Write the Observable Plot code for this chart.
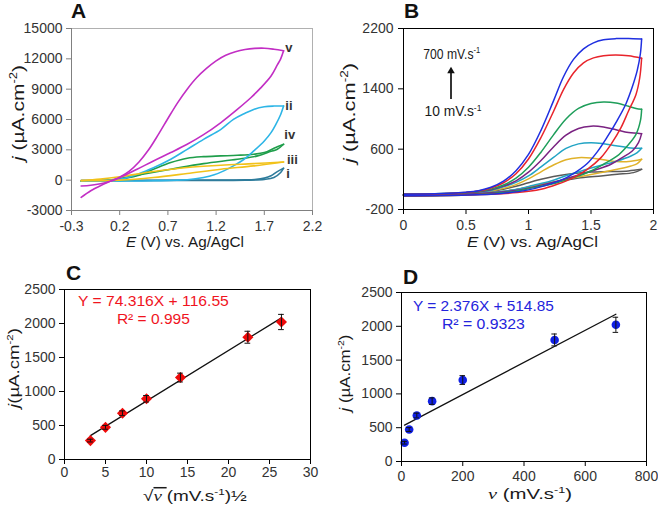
<!DOCTYPE html>
<html><head><meta charset="utf-8">
<script src="https://cdn.jsdelivr.net/npm/d3@7"></script>
<script src="https://cdn.jsdelivr.net/npm/@observablehq/plot@0.6"></script>
<style>
html,body{margin:0;padding:0;background:#fff}
#fig{position:relative;width:658px;height:506px;background:#fff}
#fig svg{position:absolute}
</style></head>
<body><div id="fig"></div>
<script>
const FONT = '"Liberation Sans", Arial, Helvetica, sans-serif';
const SERIF = '"Liberation Serif", "Times New Roman", serif';

// ---------- Panel A: CVs (E / V vs Ag/AgCl, j / µA cm-2), forward & reverse branches ----------
const A_v_fwd = [[-0.2,-1700],[-0.1,-1050],[0.0,-550],[0.1,-120],[0.2,300],[0.3,900],[0.4,1800],[0.5,3000],[0.6,4500],[0.7,6100],[0.8,7650],[0.9,9000],[1.0,10150],[1.1,11050],[1.2,11800],[1.3,12350],[1.4,12700],[1.5,12920],[1.6,13030],[1.7,13050],[1.8,12950],[1.9,12800]];
const A_v_rev = [[1.9,12800],[1.87,12000],[1.835,11400],[1.77,10300],[1.66,9100],[1.56,8150],[1.42,7000],[1.25,5700],[1.07,4500],[0.9,3550],[0.73,2730],[0.55,1900],[0.38,1080],[0.2,250],[0.1,-100],[0.0,-350],[-0.1,-500],[-0.2,-580]];
const A_ii_fwd = [[-0.2,-100],[0.0,-60],[0.2,80],[0.4,640],[0.55,1230],[0.73,2070],[0.9,3050],[1.07,4040],[1.25,5030],[1.38,6010],[1.49,6570],[1.59,7000],[1.7,7260],[1.8,7330],[1.9,7330]];
const A_ii_rev = [[1.9,7330],[1.87,6500],[1.82,5520],[1.77,4700],[1.7,3880],[1.59,2890],[1.49,2070],[1.38,1410],[1.28,920],[1.18,525],[1.07,260],[0.9,40],[0.55,-60],[0.2,-90],[-0.2,-100]];
const A_iv_fwd = [[-0.2,-100],[0.0,-60],[0.2,90],[0.38,430],[0.55,1085],[0.73,1740],[0.9,2170],[1.07,2330],[1.25,2400],[1.42,2460],[1.59,2560],[1.7,2730],[1.8,3150],[1.9,3550]];
const A_iv_rev = [[1.9,3550],[1.835,3050],[1.77,2850],[1.63,2400],[1.42,2070],[1.07,1640],[0.73,1085],[0.38,490],[0.1,0],[-0.2,-100]];
const A_iii_fwd = [[-0.2,-50],[0.0,100],[0.2,330],[0.55,850],[0.9,1250],[1.25,1480],[1.59,1640],[1.9,1800]];
const A_iii_rev = [[1.9,1800],[1.59,1410],[1.25,1085],[0.9,660],[0.55,260],[0.2,0],[-0.2,-50]];
const A_i_fwd = [[-0.2,-50],[0.5,-20],[1.25,0],[1.5,30],[1.6,70],[1.7,200],[1.77,430],[1.835,850],[1.9,1180]];
const A_i_rev = [[1.9,1180],[1.87,760],[1.8,260],[1.7,70],[1.5,0],[1.0,-20],[-0.2,-50]];
const A_labels = ["v","ii","iv","iii","i"];
const A_labelE = [1.923,1.923,1.913,1.94,1.933];
const A_labelJ = [12600,6905,4043,1515,192];
const A_xTicks = [-0.3,0.2,0.7,1.2,1.7,2.2];
const A_yTicks = [-3000,0,3000,6000,9000,12000,15000];

// ---------- Panel B: CVs at scan rates 10..700 mV/s ----------
const B_700_fwd = [[0,2],[0.3,12],[0.5,30],[0.6,50],[0.7,95],[0.8,175],[0.9,315],[1.0,530],[1.1,850],[1.2,1240],[1.28,1560],[1.36,1790],[1.44,1930],[1.52,2010],[1.6,2050],[1.7,2066],[1.8,2068],[1.905,2060]];
const B_700_rev = [[1.905,2060],[1.895,1865],[1.87,1644],[1.83,1423],[1.78,1203],[1.71,983],[1.63,762],[1.55,564],[1.47,410],[1.36,277],[1.26,189],[1.12,110],[0.99,57],[0.78,13],[0.51,-9],[0,-18]];
const B_500_fwd = [[0,2],[0.3,10],[0.5,27],[0.6,45],[0.7,85],[0.8,155],[0.9,275],[1.0,470],[1.1,755],[1.2,1100],[1.28,1390],[1.36,1610],[1.44,1745],[1.52,1810],[1.6,1840],[1.7,1850],[1.8,1838],[1.905,1805]];
const B_500_rev = [[1.905,1805],[1.89,1547],[1.86,1326],[1.8,1106],[1.74,885],[1.66,664],[1.58,488],[1.47,333],[1.36,223],[1.23,134],[1.1,68],[0.91,24],[0.51,-7],[0,-18]];
const B_200_fwd = [[0,2],[0.5,22],[0.6,38],[0.7,70],[0.8,125],[0.9,215],[1.0,360],[1.1,560],[1.2,790],[1.3,1000],[1.4,1140],[1.5,1205],[1.6,1225],[1.7,1212],[1.8,1168],[1.86,1140],[1.905,1128]];
const B_200_rev = [[1.905,1128],[1.895,974],[1.86,797],[1.79,643],[1.71,510],[1.6,400],[1.5,311],[1.36,223],[1.23,156],[1.04,90],[0.86,33],[0.51,-7],[0,-18]];
const B_100_fwd = [[0,2],[0.5,20],[0.6,34],[0.7,60],[0.8,110],[0.9,180],[1.0,295],[1.1,450],[1.2,630],[1.3,785],[1.4,875],[1.5,905],[1.6,895],[1.7,858],[1.8,820],[1.905,806]];
const B_100_rev = [[1.905,806],[1.88,686],[1.83,576],[1.75,488],[1.66,400],[1.55,333],[1.42,267],[1.26,187],[1.1,121],[0.91,55],[0.51,2],[0,-18]];
const B_50_fwd = [[0,2],[0.5,18],[0.6,30],[0.7,52],[0.8,100],[0.9,160],[1.0,245],[1.1,365],[1.2,490],[1.3,610],[1.4,670],[1.5,686],[1.6,672],[1.7,645],[1.8,620],[1.905,611]];
const B_50_rev = [[1.905,611],[1.87,554],[1.82,510],[1.71,444],[1.58,386],[1.44,320],[1.31,254],[1.18,178],[1.04,121],[0.86,55],[0.51,2],[0,-18]];
const B_25_fwd = [[0,2],[0.5,15],[0.6,26],[0.7,45],[0.8,80],[0.9,130],[1.0,205],[1.1,300],[1.2,390],[1.3,460],[1.4,487],[1.5,482],[1.6,460],[1.7,437],[1.8,435],[1.905,466]];
const B_25_rev = [[1.905,466],[1.87,409],[1.82,377],[1.71,333],[1.58,289],[1.44,245],[1.31,201],[1.18,156],[1.04,112],[0.86,55],[0.51,2],[0,-18]];
const B_10_fwd = [[0,2],[0.5,14],[0.6,22],[0.7,38],[0.8,68],[0.9,108],[1.0,155],[1.1,200],[1.2,238],[1.3,265],[1.4,283],[1.5,296],[1.6,302],[1.7,304],[1.8,312],[1.905,333]];
const B_10_rev = [[1.905,333],[1.84,289],[1.71,267],[1.58,245],[1.44,223],[1.31,192],[1.18,156],[1.04,112],[0.86,55],[0.51,2],[0,-18]];
const B_xTicks = [0,0.5,1,1.5,2];
const B_yTicks = [-200,600,1400,2200];
const B_arrowE = [0.38];
const B_arrowJ = [1260,1636];
const B_noteE = [0.39,0.40];
const B_noteJ = [1790,1027];
const B_noteRate = ["700","10"];

// ---------- Panels C & D: peak current vs scan rate ----------
const scanRates = [10,25,50,100,200,500,700];
const peakJ = [278,473,680,893,1205,1798,2022];
const peakErr = [20,28,35,48,65,88,112];
const fitC = [74.316,116.55], r2C = "0.995";
const fitD = [2.376,514.85], r2D = "0.9323";
const C_xTicks = [0,5,10,15,20,25,30];
const D_xTicks = [0,200,400,600,800];
const CD_yTicks = [0,500,1000,1500,2000,2500];

const fig = document.getElementById("fig");
const fmt = d => String(d);
const rows = (pairs, id) => pairs.map(([x, y]) => ({x, y, id}));

function panel(o) {
  const svg = Plot.plot({
    width: 329, height: 253,
    marginLeft: o.m[0], marginRight: o.m[1], marginTop: o.m[2], marginBottom: o.m[3],
    x: {domain: o.xDomain}, y: {domain: o.yDomain},
    style: {fontFamily: FONT, fontSize: o.fs + "px", color: "#333", background: "transparent", overflow: "visible"},
    marks: [
      ...o.marks,
      Plot.frame({stroke: o.frame, strokeWidth: 1}),
      ...(o.axisLine ? [Plot.ruleX([o.xDomain[0]], {stroke: o.axisLine}), Plot.ruleY([o.yDomain[0]], {stroke: o.axisLine})] : []),
      Plot.axisX({ticks: o.xTicks, tickFormat: fmt, tickSize: 5, tickPadding: o.xPad, label: null, stroke: o.tick, fill: "#333", fontSize: o.fs}),
      Plot.axisY({ticks: o.yTicks, tickFormat: fmt, tickSize: 5, tickPadding: o.yPad, label: null, stroke: o.tick, fill: "#333", fontSize: o.fs})
    ]
  });
  svg.style.left = o.ox + "px";
  svg.style.top = o.oy + "px";
  fig.appendChild(svg);
  // make sure the tick labels get the intended size and face
  d3.select(svg).selectAll('g[aria-label$="tick label"]').attr("font-size", o.fs).attr("font-family", FONT)
    .selectAll("text").style("font-size", o.fs + "px");
  const sx = svg.scale("x"), sy = svg.scale("y");
  svg._x = d3.scaleLinear(sx.domain, sx.range);
  svg._y = d3.scaleLinear(sy.domain, sy.range);
  return svg;
}

function richText(svg, o) {
  const t = d3.select(svg).append("text")
    .attr("font-family", FONT).attr("font-size", o.size)
    .attr("fill", o.fill || "#1a1a1a").attr("text-anchor", o.anchor || "middle");
  if (o.weight) t.attr("font-weight", o.weight);
  const shift = o.size * 0.4;
  let raised = false;
  for (const p of o.parts) {
    const s = typeof p === "string" ? {t: p} : p;
    const ts = t.append("tspan").text(s.t);
    if (s.italic) ts.attr("font-style", "italic");
    if (s.serif) ts.attr("font-family", SERIF);
    if (s.over) ts.attr("text-decoration", "overline");
    if (s.sup) { ts.attr("font-size", o.size * 0.62); if (!raised) ts.attr("dy", -shift); raised = true; }
    else if (raised) { ts.attr("dy", shift); raised = false; }
  }
  let tr = `translate(${o.x},${o.y})`;
  if (o.rotate) tr += ` rotate(${o.rotate})`;
  if (o.length) { const w = t.node().getComputedTextLength(); if (w > 0) tr += ` scale(${o.length / w},1)`; }
  t.attr("transform", tr);
}

const line = (pairs, stroke, w) => Plot.line(rows(pairs, "c"), {x: "x", y: "y", stroke, strokeWidth: w, curve: "catmull-rom"});

// ----- Panel A -----
const colA = {v: "#C22EC4", ii: "#2DB5E6", iv: "#1F9E4B", iii: "#F2C21A", i: "#2E7C9C"};
const svgA = panel({
  ox: 0, oy: 0, m: [71, 17, 28, 43], fs: 14,
  xDomain: [-0.3, 2.2], yDomain: [-3000, 15000], xTicks: A_xTicks, yTicks: A_yTicks,
  xPad: 6, yPad: 4, frame: "#B0B0B0", tick: "#808080", axisLine: "#808080",
  marks: [
    line(A_i_fwd, colA.i, 1.6), line(A_i_rev, colA.i, 1.6),
    line(A_iv_fwd, colA.iv, 1.6), line(A_iv_rev, colA.iv, 1.6),
    line(A_ii_fwd, colA.ii, 1.6), line(A_ii_rev, colA.ii, 1.6),
    line(A_iii_fwd, colA.iii, 1.6), line(A_iii_rev, colA.iii, 1.6),
    line(A_v_fwd, colA.v, 1.6), line(A_v_rev, colA.v, 1.6)
  ]
});
A_labels.forEach((lab, i) => richText(svgA, {x: svgA._x(A_labelE[i]), y: svgA._y(A_labelJ[i]), size: 13, weight: "bold", fill: "#333", anchor: "start", parts: [lab]}));
richText(svgA, {x: 71, y: 18, size: 21, weight: "bold", anchor: "start", fill: "#111", parts: ["A"]});
richText(svgA, {x: 24, y: 113, rotate: -90, size: 17, length: 96, parts: [{t: "j", italic: true}, " (µA.cm", {t: "-2", sup: true}, ")"]});
richText(svgA, {x: 185, y: 247, size: 15, length: 118, parts: [{t: "E", italic: true}, " (V) vs. Ag/AgCl"]});

// ----- Panel B -----
const colB = {"700": "#1F2FE0", "500": "#E8242B", "200": "#1E9E5A", "100": "#7A2382", "50": "#22A4C4", "25": "#E0B22A", "10": "#5A5A5A"};
const svgB = panel({
  ox: 329, oy: 0, m: [74, 5, 28, 44], fs: 14,
  xDomain: [0, 2], yDomain: [-200, 2200], xTicks: B_xTicks, yTicks: B_yTicks,
  xPad: 6, yPad: 5, frame: "#000", tick: "#000",
  marks: [
    line(B_10_fwd, colB["10"], 1.5), line(B_10_rev, colB["10"], 1.5),
    line(B_25_fwd, colB["25"], 1.5), line(B_25_rev, colB["25"], 1.5),
    line(B_50_fwd, colB["50"], 1.5), line(B_50_rev, colB["50"], 1.5),
    line(B_100_fwd, colB["100"], 1.5), line(B_100_rev, colB["100"], 1.5),
    line(B_200_fwd, colB["200"], 1.5), line(B_200_rev, colB["200"], 1.5),
    line(B_500_fwd, colB["500"], 1.5), line(B_500_rev, colB["500"], 1.5),
    line(B_700_fwd, colB["700"], 1.5), line(B_700_rev, colB["700"], 1.5),
    Plot.ruleX(B_arrowE, {y1: B_arrowJ[0], y2: B_arrowJ[1], stroke: "#111", strokeWidth: 1.7}),
    Plot.dot(B_arrowE, {x: d => d, y: () => B_arrowJ[1], symbol: "triangle", r: 2.8, fill: "#111", stroke: "none"})
  ]
});
B_noteRate.forEach((rate, i) => richText(svgB, {x: svgB._x(B_noteE[i]), y: svgB._y(B_noteJ[i]), size: 14, length: 57, parts: [rate + " mV.s", {t: "-1", sup: true}]}));
richText(svgB, {x: 75, y: 18, size: 21, weight: "bold", anchor: "start", fill: "#111", parts: ["B"]});
richText(svgB, {x: 25.5, y: 113, rotate: -90, size: 17, length: 100, parts: [{t: "j", italic: true}, " (µA.cm", {t: "-2", sup: true}, ")"]});
richText(svgB, {x: 203.5, y: 247, size: 15, length: 131, parts: [{t: "E", italic: true}, " (V) vs. Ag/AgCl"]});

// ----- Panel C -----
const ptsC = scanRates.map((v, i) => ({x: Math.sqrt(v), y: peakJ[i], e: peakErr[i]}));
const ptsD = scanRates.map((v, i) => ({x: v, y: peakJ[i], e: peakErr[i]}));
const fitLine = (pts, f) => [pts[0].x, pts[pts.length - 1].x].map(x => ({x, y: f[0] * x + f[1]}));
const errMarks = (pts, cap) => [
  Plot.ruleX(pts, {x: "x", y1: d => d.y - d.e, y2: d => d.y + d.e, stroke: "#111", strokeWidth: 1}),
  Plot.ruleY(pts, {y: d => d.y + d.e, x1: d => d.x - cap, x2: d => d.x + cap, stroke: "#111", strokeWidth: 1}),
  Plot.ruleY(pts, {y: d => d.y - d.e, x1: d => d.x - cap, x2: d => d.x + cap, stroke: "#111", strokeWidth: 1})
];
const svgC = panel({
  ox: 0, oy: 253, m: [64, 19, 36, 47], fs: 14,
  xDomain: [0, 30], yDomain: [0, 2500], xTicks: C_xTicks, yTicks: CD_yTicks,
  xPad: 3, yPad: 4, frame: "#000", tick: "#000",
  marks: [
    Plot.line(fitLine(ptsC, fitC), {x: "x", y: "y", stroke: "#111", strokeWidth: 1.3}),
    Plot.dot(ptsC, {x: "x", y: "y", symbol: d3.symbolDiamond2, r: 5, fill: "#EE0A0A", stroke: "none"}),
    ...errMarks(ptsC, 0.35)
  ]
});
richText(svgC, {x: svgC._x(10.9), y: svgC._y(2251), size: 15, length: 151, fill: "#F0141E", parts: [`Y = ${fitC[0]}X + ${fitC[1]}`]});
richText(svgC, {x: svgC._x(10.9), y: svgC._y(1987), size: 15, length: 73, fill: "#F0141E", parts: [`R² = ${r2C}`]});
richText(svgC, {x: 66, y: 27, size: 21, weight: "bold", anchor: "start", fill: "#111", parts: ["C"]});
richText(svgC, {x: 19, y: 115, rotate: -90, size: 15, length: 80, parts: [{t: "j", italic: true}, "(µA.cm", {t: "-2", sup: true}, ")"]});
richText(svgC, {x: 195, y: 248, size: 15, length: 104, parts: ["√", {t: "ν ", italic: true, serif: true, over: true}, "(mV.s", {t: "-1", sup: true}, ")½"]});

// ----- Panel D -----
const svgD = panel({
  ox: 329, oy: 253, m: [72, 12, 39, 45], fs: 14,
  xDomain: [0, 800], yDomain: [0, 2500], xTicks: D_xTicks, yTicks: CD_yTicks,
  xPad: 5, yPad: 4, frame: "#000", tick: "#000",
  marks: [
    Plot.line(fitLine(ptsD, fitD), {x: "x", y: "y", stroke: "#111", strokeWidth: 1.3}),
    Plot.dot(ptsD, {x: "x", y: "y", r: 4.3, fill: "#1020E6", stroke: "none"}),
    ...errMarks(ptsD, 9)
  ]
});
richText(svgD, {x: svgD._x(269), y: svgD._y(2220), size: 15, length: 141, fill: "#2424DC", parts: [`Y = ${fitD[0]}X + ${fitD[1]}`]});
richText(svgD, {x: svgD._x(269), y: svgD._y(1949), size: 15, length: 83, fill: "#2424DC", parts: [`R² = ${r2D}`]});
richText(svgD, {x: 74, y: 31, size: 21, weight: "bold", anchor: "start", fill: "#111", parts: ["D"]});
richText(svgD, {x: 21, y: 120, rotate: -90, size: 15, length: 77, parts: [{t: "j", italic: true}, " (µA.cm", {t: "-2", sup: true}, ")"]});
richText(svgD, {x: 201, y: 246, size: 15, length: 84, parts: [{t: "ν", italic: true, serif: true}, " (mV.s", {t: "-1", sup: true}, ")"]});
</script>
</body></html>
